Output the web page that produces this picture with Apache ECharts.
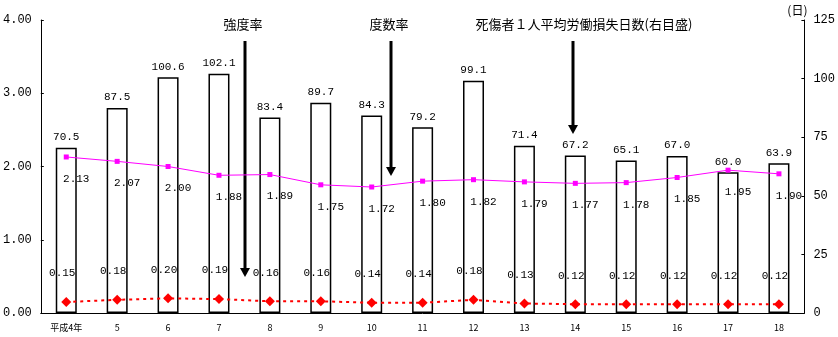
<!DOCTYPE html>
<html><head><meta charset="utf-8">
<script src="https://cdn.jsdelivr.net/npm/echarts@6/dist/echarts.min.js"></script>
<style>html,body{margin:0;padding:0;background:#fff}#c{width:838px;height:337px}</style>
</head><body><div id="c"></div>
<script>
const categories = ['平成4年','5','6','7','8','9','10','11','12','13','14','15','16','17','18'];
const lostDays = [70.5, 87.5, 100.6, 102.1, 83.4, 89.7, 84.3, 79.2, 99.1, 71.4, 67.2, 65.1, 67.0, 60.0, 63.9];
const frequencyRate = [2.13, 2.07, 2.00, 1.88, 1.89, 1.75, 1.72, 1.80, 1.82, 1.79, 1.77, 1.78, 1.85, 1.95, 1.90];
const severityRate = [0.15, 0.18, 0.20, 0.19, 0.16, 0.16, 0.14, 0.14, 0.18, 0.13, 0.12, 0.12, 0.12, 0.12, 0.12];
const leftTicks = {min: 0, max: 4, interval: 1};
const rightTicks = {min: 0, max: 125, interval: 25};

const mono = '"Liberation Mono", "DejaVu Sans Mono", monospace';
const jp = '"Noto Sans CJK JP", sans-serif';

const chart = echarts.init(document.getElementById('c'), null, {renderer: 'canvas'});

function arrow(x, y1, y2) {
  return {
    type: 'group',
    children: [
      {type: 'line', shape: {x1: x, y1: y1, x2: x, y2: y2 - 6}, style: {stroke: '#000', lineWidth: 3}},
      {type: 'polygon', shape: {points: [[x - 5, y2 - 9], [x + 5, y2 - 9], [x, y2]]}, style: {fill: '#000'}}
    ]
  };
}
function label(text, x, y) {
  return {type: 'text', x: x, y: y, style: {text: text, font: '13px ' + jp, fill: '#000', textAlign: 'center', textVerticalAlign: 'middle'}};
}

chart.setOption({
  animation: false,
  backgroundColor: '#fff',
  grid: {left: 37, right: 31, top: 20, bottom: 24},
  xAxis: {
    type: 'category',
    data: categories,
    boundaryGap: true,
    axisLine: {lineStyle: {color: '#000', width: 1}},
    axisTick: {inside: true, length: 4, lineStyle: {color: '#000'}},
    axisLabel: {color: '#000', fontSize: 9, fontFamily: jp, margin: 10, interval: 0}
  },
  yAxis: [
    {
      type: 'value', min: leftTicks.min, max: leftTicks.max, interval: leftTicks.interval,
      splitLine: {show: false},
      axisLine: {show: true, lineStyle: {color: '#000'}},
      axisTick: {show: true, inside: true, length: 3, lineStyle: {color: '#000'}},
      axisLabel: {color: '#000', fontSize: 12, fontFamily: mono, margin: 9, formatter: v => v.toFixed(2)}
    },
    {
      type: 'value', min: rightTicks.min, max: rightTicks.max, interval: rightTicks.interval,
      position: 'right',
      name: '(日)',
      nameLocation: 'end',
      nameGap: 4,
      nameTextStyle: {color: '#000', fontSize: 12, fontFamily: jp, align: 'center', padding: [0, 14, 0, 0]},
      splitLine: {show: false},
      axisLine: {show: true, lineStyle: {color: '#000'}},
      axisTick: {show: true, inside: true, length: 3, lineStyle: {color: '#000'}},
      axisLabel: {color: '#000', fontSize: 12, fontFamily: mono, margin: 9}
    }
  ],
  series: [
    {
      name: '死傷者１人平均労働損失日数',
      type: 'bar',
      yAxisIndex: 1,
      data: lostDays,
      barWidth: 21,
      itemStyle: {color: '#fff', borderColor: '#000', borderWidth: 1.5},
      label: {show: true, position: 'top', distance: 5, color: '#000', fontSize: 11, fontFamily: mono, formatter: p => p.value.toFixed(1)}
    },
    {
      name: '度数率',
      type: 'line',
      yAxisIndex: 0,
      data: frequencyRate,
      symbol: 'rect',
      symbolSize: 5,
      lineStyle: {color: '#ff00ff', width: 1},
      itemStyle: {color: '#ff00ff'},
      label: {show: true, position: 'bottom', distance: 10, offset: [10, 4], color: '#000', fontSize: 11, fontFamily: mono, formatter: p => p.value.toFixed(2)}
    },
    {
      name: '強度率',
      type: 'line',
      yAxisIndex: 0,
      data: severityRate,
      symbol: 'diamond',
      symbolSize: 10,
      lineStyle: {color: '#ff0000', width: 2, type: [3, 4]},
      itemStyle: {color: '#ff0000'},
      label: {show: true, position: 'top', distance: 18, offset: [-4, 0], color: '#000', fontSize: 11, fontFamily: mono, formatter: p => p.value.toFixed(2)}
    }
  ],
  graphic: [
    label('強度率', 243, 24),
    label('度数率', 389, 24),
    label('死傷者１人平均労働損失日数(右目盛)', 584, 24),
    arrow(245, 41, 277),
    arrow(391, 41, 176),
    arrow(573, 41, 134)
  ]
});
</script>
</body></html>
